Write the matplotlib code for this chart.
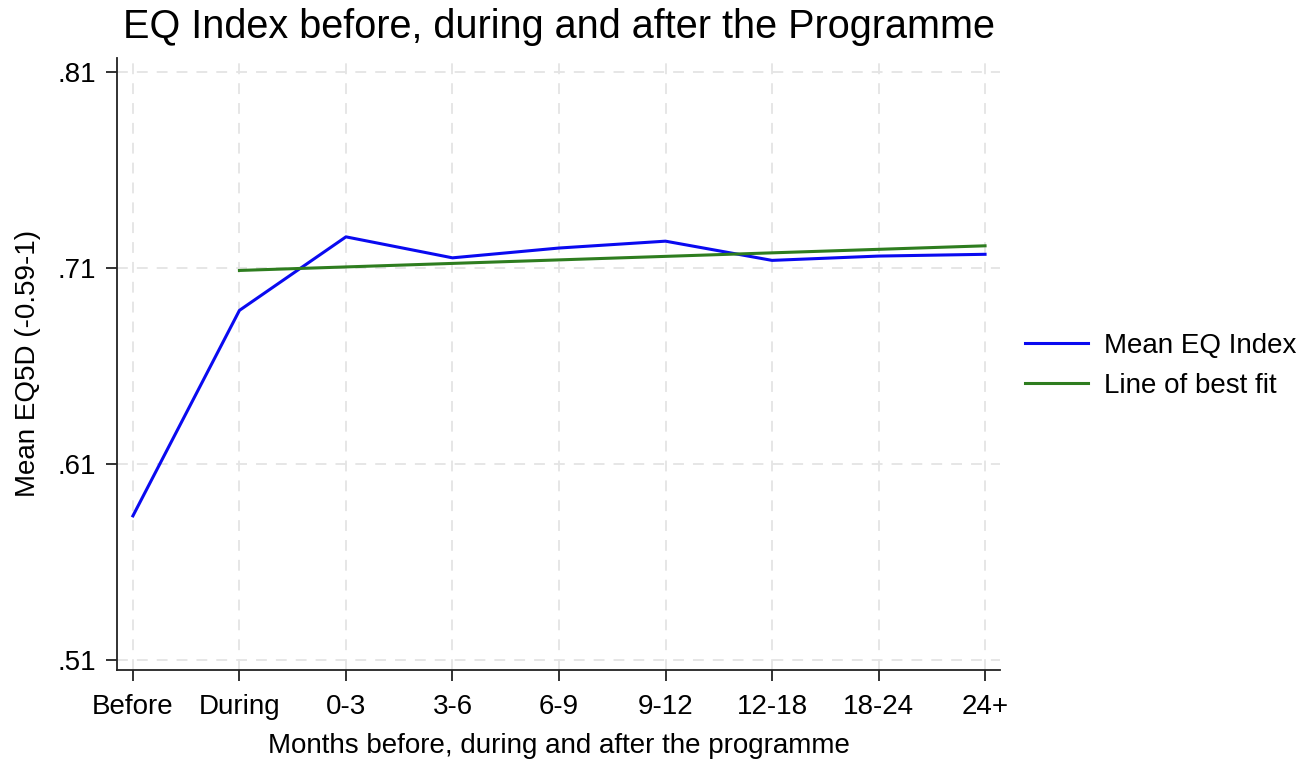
import numpy as np
import matplotlib
matplotlib.use("Agg")
import matplotlib.pyplot as plt

categories = ["Before", "During", "0-3", "3-6", "6-9", "9-12", "12-18", "18-24", "24+"]
mean_eq = [0.5835, 0.6883, 0.7258, 0.7151, 0.7201, 0.7236, 0.7138, 0.7160, 0.7169]
yticks = [0.51, 0.61, 0.71, 0.81]
ytick_labels = [".51", ".61", ".71", ".81"]

plt.rcParams['font.family'] = ['Liberation Sans', 'DejaVu Sans']

fig = plt.figure(figsize=(13.08, 7.61), dpi=100)
ax = fig.add_axes([0.0894, 0.1196, 0.6751, 0.8044])

x = np.arange(len(categories))
ax.plot(x, mean_eq, color="#0a0af0", lw=2.2, label="Mean EQ Index", zorder=3)

# line of best fit over "During" onwards
xf = x[1:]
coef = np.polyfit(xf, mean_eq[1:], 1)
ax.plot(xf, np.polyval(coef, xf), color="#2e7d1f", lw=2.2, label="Line of best fit", zorder=3)

ax.set_xlim(-0.15, 8.14)
ax.set_ylim(0.5049, 0.8171)
ax.set_xticks(x)
ax.set_xticklabels(categories, fontsize=20)
ax.set_yticks(yticks)
ax.set_yticklabels(ytick_labels, fontsize=20)
ax.tick_params(axis='both', direction='out', length=8, width=1.3, color='#222222')
ax.tick_params(axis='x', pad=9)
ax.tick_params(axis='y', pad=7)
ax.grid(True, color='#e4e4e4', linestyle=(0, (6, 5)), lw=1.3, zorder=0)

for s in ['top', 'right']:
    ax.spines[s].set_visible(False)
for s in ['left', 'bottom']:
    ax.spines[s].set_color('#222222')
    ax.spines[s].set_linewidth(1.3)

ax.set_xlabel("Months before, during and after the programme", fontsize=20, labelpad=10)
ax.set_ylabel("Mean EQ5D (-0.59-1)", fontsize=20, labelpad=12)
fig.suptitle("EQ Index before, during and after the Programme", fontsize=28.5, x=0.427, y=0.99, va='top')

leg = fig.legend(loc='center left', bbox_to_anchor=(1025 / 1308, 1 - 366 / 761), frameon=False, fontsize=20,
                 handlelength=2.25, handletextpad=0.6, labelspacing=0.5, borderpad=0, borderaxespad=0)

fig.savefig("out.png", dpi=100, facecolor='white')
